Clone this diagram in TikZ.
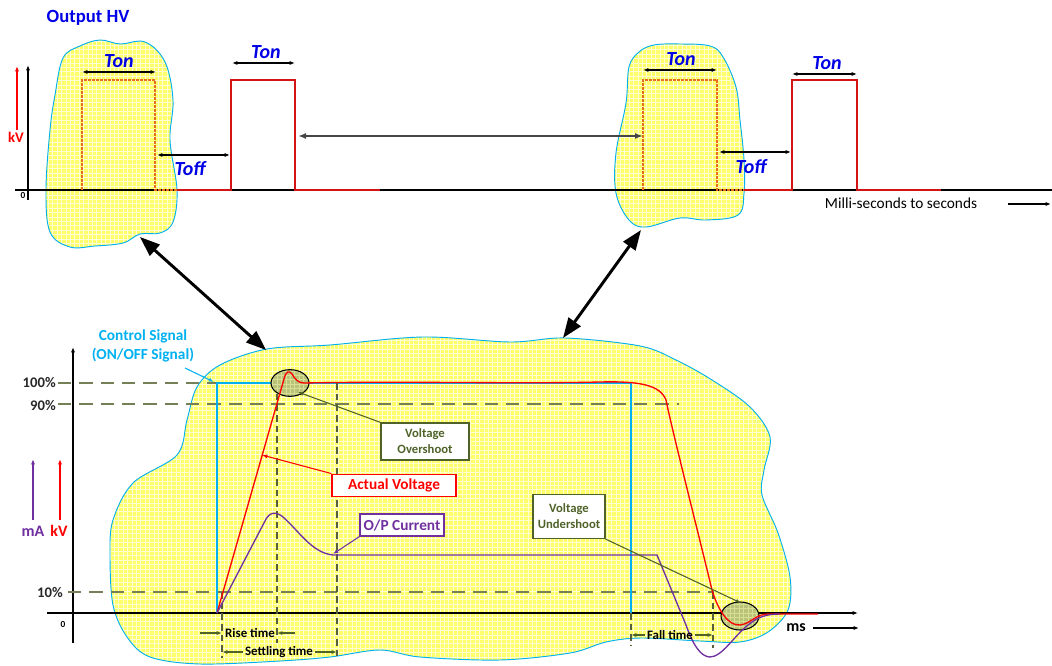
\documentclass[tikz,border=0pt]{standalone}
\usepackage{fontspec}
\setmainfont{Carlito}
\usetikzlibrary{arrows.meta,patterns,shapes.geometric}
\pgfdeclarepatternformonly{finegrid}{\pgfqpoint{-1pt}{-1pt}}{\pgfqpoint{4.3pt}{4.3pt}}{\pgfqpoint{3.3pt}{3.3pt}}
{
  \pgfsetlinewidth{0.75pt}
  \pgfpathmoveto{\pgfqpoint{-0.1pt}{0pt}}
  \pgfpathlineto{\pgfqpoint{3.4pt}{0pt}}
  \pgfpathmoveto{\pgfqpoint{0pt}{-0.1pt}}
  \pgfpathlineto{\pgfqpoint{0pt}{3.4pt}}
  \pgfusepath{stroke}
}
\definecolor{hvblue}{RGB}{0,0,230}
\definecolor{cyanline}{RGB}{0,176,240}
\definecolor{pulsered}{RGB}{210,20,20}
\definecolor{pulseorange}{RGB}{230,110,30}
\definecolor{vred}{RGB}{255,0,0}
\definecolor{curpurple}{RGB}{112,48,160}
\definecolor{olivetext}{RGB}{79,98,40}
\definecolor{olivedash}{RGB}{118,128,88}
\definecolor{olivevert}{RGB}{85,95,60}
\definecolor{blobbase}{RGB}{255,255,105}
\definecolor{blobgrid}{RGB}{255,255,210}
\definecolor{ellbase}{RGB}{185,195,120}
\definecolor{ellgrid}{RGB}{215,222,150}
\definecolor{darkgrey}{RGB}{70,70,70}
\definecolor{lbltext}{RGB}{40,40,40}
\tikzset{
  blobshape/.style={preaction={fill=blobbase},preaction={pattern=finegrid,pattern color=blobgrid},draw=cyanline,line width=0.7pt},
  ellshape/.style={preaction={fill=ellbase},preaction={pattern=finegrid,pattern color=ellgrid},draw=black,line width=0.8pt},
  axisline/.style={draw=black,line width=0.8pt},
  smalltip/.style={-{Latex[length=4pt,width=3pt]}},
  dimarr/.style={black,line width=0.8pt,{Latex[length=4pt,width=3pt]}-{Latex[length=4pt,width=3pt]}},
  tonlbl/.style={text=hvblue,font=\fontsize{15}{16}\selectfont\bfseries\itshape,inner sep=0pt},
  pctlbl/.style={text=lbltext,font=\fontsize{11}{12}\selectfont\bfseries,inner sep=0pt,anchor=east},
  dashref/.style={olivedash,line width=1pt,dash pattern=on 10pt off 6pt},
  dashvert/.style={olivevert,line width=0.8pt,dash pattern=on 5pt off 3pt},
  bigarrow/.style={black,line width=2.2pt,{Triangle[length=15pt,width=11pt]}-{Triangle[length=15pt,width=11pt]}},
  olbox/.style={draw=olivetext,fill=white,line width=0.9pt,text=olivetext,font=\fontsize{9.5}{12}\selectfont\bfseries,align=center,inner sep=0pt},
  timelbl/.style={text=black,font=\fontsize{9.7}{11}\selectfont\bfseries,inner sep=1pt},
  olarr/.style={olivetext,line width=0.8pt,-{Latex[length=4pt,width=3pt]}},
}
\begin{document}
\begin{tikzpicture}[x=0.75pt,y=-0.75pt]
\useasboundingbox (0,0) rectangle (1052,666);
% ---------------- blobs ----------------
\path[blobshape] plot[smooth cycle,tension=0.6] coordinates {(63,58) (80,46) (100,40) (120,44) (145,42) (165,62) (173,100) (170,140) (177,190) (173,222) (160,233) (140,234) (123,243) (95,246) (70,247) (50,232) (46,190) (50,130) (55,95)};
\path[blobshape] plot[smooth cycle,tension=0.6] coordinates {(639,52) (654,45) (680,44) (710,46) (723,57) (736,87) (740,120) (744,160) (744,193) (738,215) (706,220) (680,218) (646,227) (629,220) (616,193) (616,153) (626,103) (629,67)};
\path[blobshape] plot[smooth cycle,tension=0.55] coordinates {(267,349) (330,345) (423,337) (510,342) (565,338) (640,346) (676,360) (712,380) (750,407) (770,437) (764,470) (762,495) (778,533) (790,577) (788,610) (768,632) (740,642) (700,641) (641,638) (606,642) (570,653) (500,660) (420,657) (380,650) (330,657) (280,661) (200,664) (150,657) (127,637) (113,605) (110,555) (113,520) (133,483) (177,455) (187,420) (197,387) (220,365)};
% ---------------- top chart ----------------
\node[text=hvblue,font=\fontsize{14}{16}\selectfont\bfseries,inner sep=0pt] (title) at (88,18) {Output HV};
\draw[axisline] (15,190) -- (1052,190);
\draw[axisline,smalltip] (28,200) -- (28,65);
\draw[vred,line width=1.1pt,smalltip] (17,130) -- (17,66);
\node[text=vred,font=\fontsize{11}{12}\selectfont\bfseries,inner sep=0pt] (kvtop) at (16,137) {kV};
\node[font=\fontsize{7}{8}\selectfont\bfseries,inner sep=0pt] (zerotop) at (23,195) {0};
% pulses
\draw[pulseorange,line width=1pt,dash pattern=on 2pt off 1pt] (82,190) -- (82,80) -- (155,80) -- (155,190) -- (177,190);
\draw[pulsered,line width=1.1pt] (177,190) -- (231,190) -- (231,80) -- (295,80) -- (295,190) -- (380,190);
\draw[pulseorange,line width=1pt,dash pattern=on 2pt off 1pt] (643,190) -- (643,80) -- (717,80) -- (717,190) -- (744,190);
\draw[pulsered,line width=1.1pt] (744,190) -- (792,190) -- (792,80) -- (857,80) -- (857,190) -- (941,190);
% Ton / Toff
\draw[dimarr] (82,72) -- (156,72);
\node[tonlbl] (ton1) at (119,61) {Ton};
\draw[dimarr] (157,155) -- (230,155);
\node[tonlbl] (toff1) at (190,169) {Toff};
\draw[dimarr] (232,63) -- (295,63);
\node[tonlbl] (ton2) at (266,52) {Ton};
\draw[dimarr] (643,70) -- (717,70);
\node[tonlbl] (ton3) at (681,59) {Ton};
\draw[dimarr] (719,152) -- (791,152);
\node[tonlbl] (toff2) at (751,167) {Toff};
\draw[dimarr] (792,74) -- (857,74);
\node[tonlbl] (ton4) at (827,63) {Ton};
\draw[darkgrey,line width=1.3pt,{Latex[length=6pt,width=4.5pt]}-{Latex[length=6pt,width=4.5pt]}] (298,136) -- (643,136);
\node[font=\fontsize{11.5}{13}\selectfont,inner sep=0pt] (millis) at (901,203) {Milli-seconds to seconds};
\coordinate (msA) at (1008,204);
\coordinate (msB) at (1051,204);
\draw[black,line width=0.8pt,smalltip] (msA) -- (msB);
% big arrows
\coordinate (b1top) at (140,237);
\coordinate (b1bot) at (266,350);
\coordinate (b2top) at (641,230);
\coordinate (b2bot) at (563,338);
\draw[bigarrow] (b1top) -- (b1bot);
\draw[bigarrow] (b2top) -- (b2bot);
% ---------------- bottom chart ----------------
\draw[axisline,smalltip] (73,643) -- (73,347);
\draw[axisline,smalltip] (47,613) -- (858,613);
\node[font=\fontsize{7}{8}\selectfont\bfseries,inner sep=0pt] (zerob) at (63,624) {0};
\node[pctlbl] (p100) at (56,383) {100\%};
\node[pctlbl] (p90) at (56,406) {90\%};
\node[pctlbl] (p10) at (63,593) {10\%};
\draw[dashref] (58,383) -- (217,383);
\draw[dashref] (58,404) -- (679,404);
\draw[dashref] (68,592) -- (714,592);
% left unit arrows
\draw[curpurple,line width=1pt,smalltip] (33,520) -- (33,459);
\draw[vred,line width=1pt,smalltip] (60,520) -- (60,459);
\node[text=curpurple,font=\fontsize{12}{13}\selectfont\bfseries,inner sep=0pt] (mA) at (33,531) {mA};
\node[text=vred,font=\fontsize{12}{13}\selectfont\bfseries,inner sep=0pt] (kVb) at (59,531) {kV};
% control signal
\draw[cyanline,line width=1pt] (217,613) -- (217,383) -- (631,383) -- (631,613);
\node[text=cyanline,font=\fontsize{11.5}{14}\selectfont\bfseries,align=center,inner sep=0pt] (ctrl) at (143,346) {Control Signal\\(ON/OFF Signal)};
\coordinate (ctrltip) at (214,382);
\draw[cyanline,line width=0.8pt,-{Latex[length=4pt,width=3pt]}] (185,368) -- (ctrltip);
% dashed verticals
\draw[dashvert] (222,592) -- (222,658);
\draw[dashvert] (277,383) -- (277,643);
\draw[dashvert] (337,383) -- (337,656);
\draw[dashvert] (631,613) -- (631,646);
\draw[dashvert] (713,592) -- (713,648);
% ellipses
\node[ellshape,ellipse,minimum width=28.5pt,minimum height=20pt,inner sep=0pt] (ovell) at (290,383) {};
\node[ellshape,ellipse,minimum width=28.5pt,minimum height=21pt,inner sep=0pt] (unell) at (740,616) {};
% voltage curve
\draw[vred,line width=1pt] (217,613) -- (284,379)
  .. controls (286,371) and (289,370) .. (292,374)
  .. controls (295,379) and (298,383) .. (304,383)
  .. controls (400,381) and (520,384) .. (600,382)
  .. controls (640,381) and (660,385) .. (666,400)
  .. controls (672,430) and (700,540) .. (712,590)
  .. controls (718,610) and (728,626) .. (740,625)
  .. controls (750,624) and (756,614) .. (768,614)
  -- (818,614);
% current curve
\draw[curpurple,line width=1pt] (217,613) -- (265,521)
  .. controls (269,512) and (276,511) .. (283,517)
  .. controls (299,531) and (312,553) .. (333,555)
  -- (657,555) -- (686,625)
  .. controls (693,645) and (701,657) .. (710,657)
  .. controls (722,657) and (734,636) .. (748,625)
  .. controls (758,617) and (766,614) .. (780,614);
% labels boxes
\node[olbox,minimum width=66pt,minimum height=27.75pt] (ovbox) at (425,441.5) {Voltage\\Overshoot};
\draw[olarr] (ovbox.north west) -- (298,392);
\node[draw=vred,fill=white,line width=0.9pt,text=vred,font=\fontsize{11.5}{13}\selectfont\bfseries,minimum width=93pt,minimum height=17pt,inner sep=0pt] (actv) at (394,485.5) {Actual Voltage};
\draw[vred,line width=0.8pt,-{Latex[length=4pt,width=3pt]}] (actv.north west) -- (262,455);
\node[draw=curpurple,fill=white,line width=0.9pt,text=curpurple,font=\fontsize{11.5}{13}\selectfont\bfseries,minimum width=63pt,minimum height=16.5pt,inner sep=0pt] (opc) at (402,525) {O/P Current};
\draw[curpurple,line width=0.8pt,-{Latex[length=4pt,width=3pt]}] (opc.south west) -- (333,554);
\node[olbox,minimum width=54pt,minimum height=33pt] (unbox) at (569,516.5) {Voltage\\Undershoot};
\draw[olarr] (unbox.south east) -- (741,603);
% time labels
\node[timelbl] (rise) at (250,633) {Rise time};
\draw[olarr] (200,633) -- (222,633);
\draw[olarr] (295,633) -- (277,633);
\node[timelbl] (settle) at (279,652) {Settling time};
\draw[olarr] (settle.west) -- (222,652);
\draw[olarr] (settle.east) -- (337,652);
\node[timelbl] (fall) at (670,635) {Fall time};
\draw[olarr] (fall.west) -- (631,635);
\draw[olarr] (fall.east) -- (713,635);
\node[font=\fontsize{12}{13}\selectfont\bfseries,inner sep=0pt] (ms) at (796,628) {ms};
\coordinate (msb1) at (813,628);
\coordinate (msb2) at (859,628);
\draw[black,line width=0.8pt,smalltip] (msb1) -- (msb2);
\end{tikzpicture}
\end{document}
